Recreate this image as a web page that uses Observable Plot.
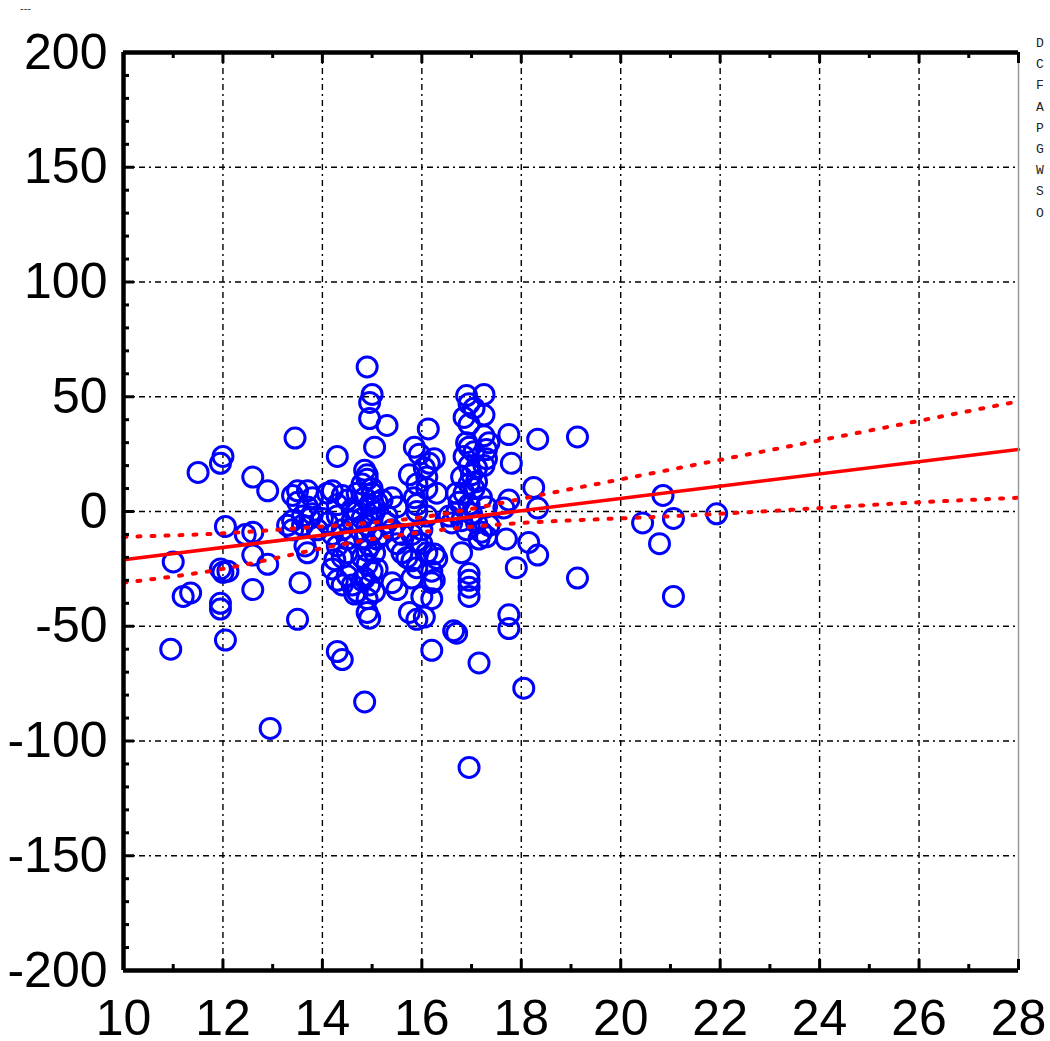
<!DOCTYPE html>
<html><head><meta charset="utf-8">
<script src="https://cdn.jsdelivr.net/npm/d3@7"></script>
<script src="https://cdn.jsdelivr.net/npm/@observablehq/plot@0.6"></script>
<style>
body{margin:0;background:#fff;}
#wrap{position:relative;width:1050px;height:1041px;overflow:hidden;background:#fff}
#legend{position:absolute;left:1036px;top:33px;font-family:"Liberation Mono","DejaVu Sans Mono",monospace;font-size:13px;line-height:21.2px;color:#222;white-space:pre}
#dash{position:absolute;left:20px;top:2px;font-family:"Liberation Sans",Arial,sans-serif;font-size:11px;color:#333}
</style>
</head><body><div id="wrap"><div id="dash">---</div><div id="legend">D
C
F
A
P
G
W
S
O</div></div>
<script>
// ---- data ----
const xTicks = [10, 12, 14, 16, 18, 20, 22, 24, 26, 28];
const yTicks = [-200, -150, -100, -50, 0, 50, 100, 150, 200];
const gridX = [12, 14, 16, 18, 20, 22, 24, 26];
const gridY = [-150, -100, -50, 0, 50, 100, 150];

const points = [
  // left / scattered
  [13.45,32],[12.0,24],[11.95,21],[11.5,17],[12.6,15],[12.9,9],[12.05,-6.5],[12.45,-10],[12.6,-9],
  [13.3,-6],[13.4,-8],[13.7,-18],[11.0,-22],[12.6,-19],[12.9,-23],[11.95,-25],[12.0,-26.5],[12.1,-26],
  [11.2,-37],[11.35,-35.5],[12.6,-34],[13.55,-31],[11.95,-40],[11.95,-42.5],[13.5,-47],[12.05,-56],
  [10.95,-60],[12.95,-94.5],
  // column near 15 (outer)
  [14.9,63],[15.0,51],[14.95,47.5],[14.95,40.5],[15.3,37.5],[14.3,24],[15.05,28],[14.85,18],[14.9,16],
  [14.9,-44],[14.95,-46.5],[14.3,-61],[14.4,-64.5],[14.85,-83],[15.4,-31],[15.5,-34],[14.25,-21],
  [14.3,-30],[14.65,-36],[14.9,-38],
  // cluster 13.4-13.9
  [13.4,7],[13.5,4],[13.6,-2],[13.7,9],[13.8,6],[13.6,-6],[13.8,-1],[13.4,-4],[13.7,2],[13.9,-8],
  [13.5,9],[13.75,-3],[13.65,-15],
  // cluster 14.0-14.7
  [14.1,8],[14.2,9],[14.3,3],[14.4,7],[14.5,5],[14.3,-2],[14.1,-5],[14.4,-8],[14.5,-12],[14.3,-15],
  [14.4,-20],[14.2,-25],[14.5,-28],[14.6,-32],[14.7,-35],[14.6,-4],[14.6,1],[14.7,8],[14.5,-18],
  [14.2,-10],[14.4,-32],[14.0,-3],
  // cluster 14.7-15.1
  [14.8,12],[14.9,14],[15.0,10],[14.85,6],[14.95,3],[15.05,0],[14.8,-3],[14.9,-6],[15.0,-9],[14.85,-12],
  [14.95,-15],[15.05,-18],[14.8,-20],[14.9,-23],[15.0,-26],[14.85,-29],[14.95,-32],[15.05,-35],[15.0,8],
  [14.75,-8],[15.1,-12],[15.1,4],[14.7,0],[15.0,-3],[14.9,-17],[15.1,-25],[14.8,-30],
  // cluster 15.2-15.7
  [15.2,5],[15.3,-2],[15.4,-8],[15.5,-14],[15.6,-18],[15.3,-5],[15.5,2],[15.2,-10],[15.6,-10],[15.7,-20],
  // cluster 15.8-16.3
  [15.85,28],[15.95,25],[16.25,23],[16.15,21],[15.75,16],[16.1,15],[16.3,8],[15.4,6],[15.85,6],[15.9,3],
  [15.9,0],[16.1,-2],[15.8,-10],[15.9,-13],[16.0,-14],[16.1,-18],[16.25,-18.5],[16.3,-20.5],[15.8,-21.5],
  [15.9,-24.5],[15.8,-29],[16.2,-31],[16.0,-37],[15.75,-44],[15.9,-47],[16.05,-46],[16.64,-52],
  [16.2,-60.5],[16.2,-26],[16.25,-30],[16.2,-38],[16.0,-8],[16.1,10],[16.13,36],[15.9,12],[16.05,19],
  // cluster 16.6-17.4
  [16.9,50.5],[17.25,51],[16.95,47],[17.05,45],[16.85,41],[17.25,42],[16.95,38],[17.25,33],[17.35,30],
  [17.3,27],[16.9,30],[16.95,28],[17.05,26],[16.85,24],[16.95,20],[17.1,19],[17.25,20],[17.3,23],
  [16.8,15],[16.95,12],[17.05,10],[16.85,8],[16.75,4],[16.95,3],[17.2,6],[17.3,2],[16.6,-5],[16.8,-4],
  [17.1,-5],[17.2,-9],[17.3,-11],[17.15,-12],[17.0,-1],[17.35,-6],[16.7,8],[17.1,13],[16.9,-8],[17.0,16],
  [16.55,-2],[16.7,-0.5],[16.8,-18],[16.95,-27],[16.95,-30],[16.95,-33],[16.95,-37],[16.7,-53],
  [17.15,-66],[16.95,-111.5],
  // right side
  [17.75,33.5],[18.33,31.5],[19.13,32.5],[17.8,21],[18.25,10.5],[17.75,5],[17.65,1.5],[18.33,1.5],
  [20.85,7],[20.44,-5],[21.06,-3],[21.93,-1],[20.78,-14],[17.7,-12],[18.15,-13.5],[18.33,-19],
  [17.9,-24.5],[19.13,-29],[21.06,-37],[17.75,-45],[17.75,-51],[18.05,-77]
];

// fitted line and confidence band
const fitX = [10, 28];
const fitY = [-21, 27];
const bandX = [10, 12, 14, 16, 18, 20, 22, 24, 26, 28];
const bandUpper = [-11, -9.5, -6.5, -2.5, 5.5, 14, 22.5, 31, 39.5, 48];
const bandLower = [-31, -25, -16, -9, -5, -3, -1, 1.5, 4, 6];

const xMinor = [11, 13, 15, 17, 19, 21, 23, 25, 27];
const yMinor = d3.range(-190, 200, 10).filter(v => v % 50 !== 0);

const fit = fitX.map((x, i) => ({x, y: fitY[i]}));
const up = bandX.map((x, i) => ({x, y: bandUpper[i]}));
const lo = bandX.map((x, i) => ({x, y: bandLower[i]}));

const pxX = 18 / 895;   // data units per pixel (x)
const pxY = 400 / 918;  // data units per pixel (y)

const chart = Plot.plot({
  width: 1050, height: 1041,
  marginLeft: 123, marginRight: 32, marginTop: 52, marginBottom: 71,
  x: {domain: [10, 28], label: null},
  y: {domain: [-200, 200], label: null},
  style: {fontFamily: "'Liberation Sans', Arial, sans-serif", background: "white", color: "black"},
  marks: [
    Plot.ruleX(gridX, {stroke: "#000", strokeWidth: 1.4, strokeDasharray: "6,4,2,4"}),
    Plot.ruleY(gridY, {stroke: "#000", strokeWidth: 1.4, strokeDasharray: "6,4,2,4"}),
    Plot.dot(points, {x: d => d[0], y: d => d[1], r: 10, stroke: "#0000ff", strokeWidth: 3, fill: "none"}),
    Plot.line(up, {x: "x", y: "y", curve: "natural", stroke: "#ff0000", strokeWidth: 4, strokeDasharray: "3,11"}),
    Plot.line(lo, {x: "x", y: "y", curve: "natural", stroke: "#ff0000", strokeWidth: 4, strokeDasharray: "3,11"}),
    Plot.line(fit, {x: "x", y: "y", stroke: "#ff0000", strokeWidth: 3.5}),
    // frame
    Plot.ruleX([28], {stroke: "#999", strokeWidth: 1.5}),
    Plot.ruleX([10], {stroke: "black", strokeWidth: 4.5}),
    Plot.ruleY([-200], {stroke: "black", strokeWidth: 4.5}),
    Plot.ruleY([200], {stroke: "black", strokeWidth: 4.5}),
    // inward ticks
    Plot.ruleY(yTicks, {y: d => d, x1: 10, x2: 10 + 11 * pxX, stroke: "black", strokeWidth: 3}),
    Plot.ruleY(yMinor, {y: d => d, x1: 10, x2: 10 + 6 * pxX, stroke: "black", strokeWidth: 3}),
    Plot.ruleX(xTicks, {x: d => d, y1: -200, y2: -200 + 11 * pxY, stroke: "black", strokeWidth: 3}),
    Plot.ruleX(xMinor, {x: d => d, y1: -200, y2: -200 + 6 * pxY, stroke: "black", strokeWidth: 3}),
    Plot.ruleX(xTicks, {x: d => d, y1: 200, y2: 200 - 11 * pxY, stroke: "black", strokeWidth: 3}),
    Plot.ruleX(xMinor, {x: d => d, y1: 200, y2: 200 - 6 * pxY, stroke: "black", strokeWidth: 3}),
    Plot.axisX(xTicks, {tickSize: 0, tickPadding: 29, fontSize: 50, label: null, tickFormat: d => String(d)}),
    Plot.axisY(yTicks, {tickSize: 0, tickPadding: 16, fontSize: 50, label: null, tickFormat: d => String(d)})
  ]
});
document.getElementById("wrap").prepend(chart);
chart.style.position = "absolute";
chart.style.left = "0";
chart.style.top = "0";
</script>
</body></html>
